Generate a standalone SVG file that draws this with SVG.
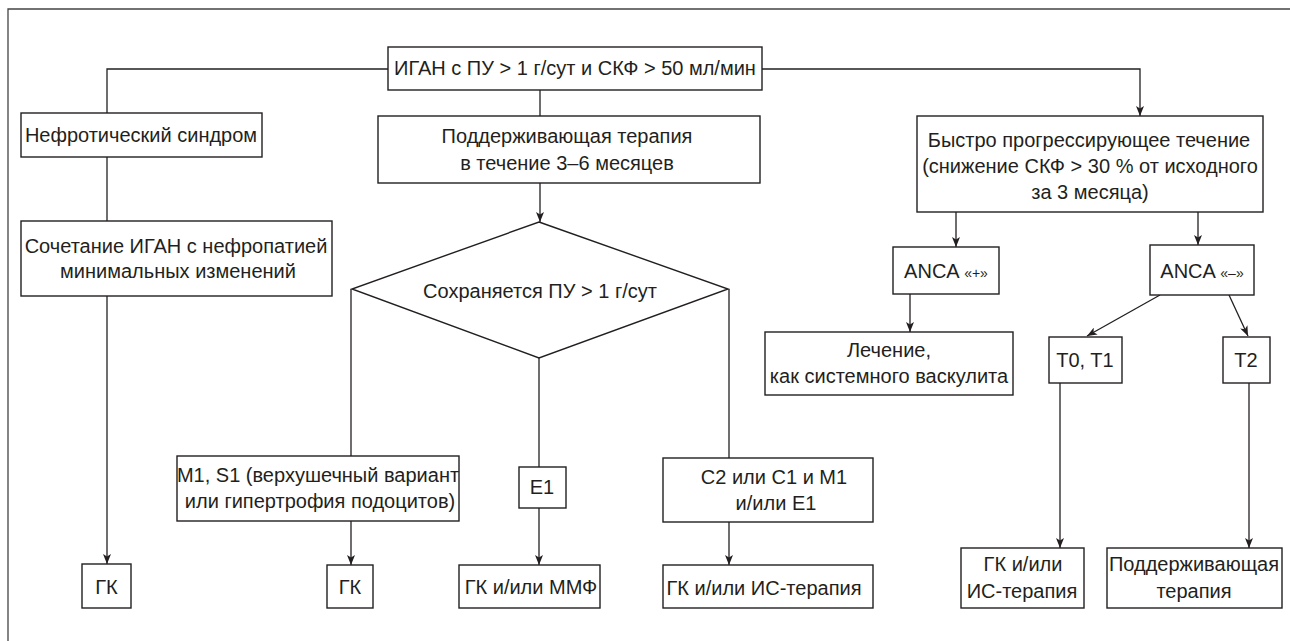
<svg xmlns="http://www.w3.org/2000/svg" width="1290" height="641" viewBox="0 0 1290 641">
<style>
.box{fill:#fff;stroke:#231f20;stroke-width:1.4}
.ln{fill:none;stroke:#231f20;stroke-width:1.3}
.arr{marker-end:url(#ah)}
text{font-family:"Liberation Sans",Arial,sans-serif;font-size:20px;fill:#231f20;text-anchor:middle}
.q{font-size:14px}
</style>
<defs>
<marker id="ah" viewBox="0 0 10 8" refX="10" refY="4" markerWidth="10" markerHeight="8" markerUnits="userSpaceOnUse" orient="auto">
<path d="M0,0 L10,4 L0,8 L2.5,4 z" fill="#231f20"/>
</marker>
</defs>
<rect width="1290" height="641" fill="#fff"/>
<path d="M8,641 V9 H1290" fill="none" stroke="#444" stroke-width="1.3"/>

<g id="connectors">
<path class="ln" d="M388,69 H107 V113"/>
<path class="ln" d="M107,157 V221"/>
<path class="ln arr" d="M107,296 V564"/>
<path class="ln" d="M540,90 V116"/>
<path class="ln arr" d="M540,183 V222"/>
<path class="ln" d="M351,289 V456"/>
<path class="ln arr" d="M351,521 V565"/>
<path class="ln" d="M539,358 V467"/>
<path class="ln arr" d="M539,508 V565"/>
<path class="ln" d="M729,289 V458"/>
<path class="ln arr" d="M729,522 V565"/>
<path class="ln arr" d="M762,69 H1140 V116"/>
<path class="ln arr" d="M956,212 V247"/>
<path class="ln arr" d="M1198,212 V245"/>
<path class="ln arr" d="M910,294 V332"/>
<path class="ln arr" d="M1160,295 L1087,336"/>
<path class="ln arr" d="M1229,295 L1248,336"/>
<path class="ln arr" d="M1060,383 V548"/>
<path class="ln arr" d="M1249,383 V548"/>
</g>

<g id="n_igan"><rect class="box" x="388" y="47" width="374" height="43"/><text x="575" y="75">ИГАН с ПУ &gt; 1 г/сут и СКФ &gt; 50 мл/мин</text></g>
<g id="n_nephrotic"><rect class="box" x="21" y="113" width="241" height="44"/><text x="141" y="142">Нефротический синдром</text></g>
<g id="n_mcd"><rect class="box" x="21" y="221" width="311" height="75"/><text x="176" y="253">Сочетание ИГАН с нефропатией</text><text x="178" y="278">минимальных изменений</text></g>
<g id="n_gk1"><rect class="box" x="82" y="564" width="49" height="44"/><text x="106.5" y="594">ГК</text></g>
<g id="n_support"><rect class="box" x="378" y="116" width="382" height="67"/><text x="567" y="143">Поддерживающая терапия</text><text x="567" y="170">в течение 3–6 месяцев</text></g>
<g id="n_diamond"><polygon class="box" points="539,222 728,289 539,358 352,289"/><text x="540" y="298">Сохраняется ПУ &gt; 1 г/сут</text></g>
<g id="n_m1s1"><rect class="box" x="177" y="456" width="282" height="65"/><text x="318" y="482">M1, S1 (верхушечный вариант</text><text x="320" y="508">или гипертрофия подоцитов)</text></g>
<g id="n_gk2"><rect class="box" x="327" y="565" width="46" height="43"/><text x="350" y="594">ГК</text></g>
<g id="n_e1"><rect class="box" x="519" y="467" width="47" height="41"/><text x="542" y="494">E1</text></g>
<g id="n_gkmmf"><rect class="box" x="459" y="565" width="141" height="43"/><text x="531" y="594">ГК и/или ММФ</text></g>
<g id="n_c2"><rect class="box" x="663" y="458" width="210" height="64"/><text x="774" y="484">C2 или C1 и M1</text><text x="776" y="510">и/или E1</text></g>
<g id="n_gkis1"><rect class="box" x="663" y="565" width="210" height="43"/><text x="764" y="595">ГК и/или ИС-терапия</text></g>
<g id="n_rapid"><rect class="box" x="917" y="116" width="346" height="96"/><text x="1089" y="147">Быстро прогрессирующее течение</text><text x="1090" y="173">(снижение СКФ &gt; 30 % от исходного</text><text x="1090" y="199">за 3 месяца)</text></g>
<g id="n_ancap"><rect class="box" x="893" y="247" width="106" height="47"/><text x="946" y="278">ANCA <tspan class="q">«+»</tspan></text></g>
<g id="n_ancam"><rect class="box" x="1150" y="245" width="104" height="50"/><text x="1202" y="278">ANCA <tspan class="q">«–»</tspan></text></g>
<g id="n_vasc"><rect class="box" x="765" y="332" width="248" height="63"/><text x="889" y="357">Лечение,</text><text x="889" y="383">как системного васкулита</text></g>
<g id="n_t0t1"><rect class="box" x="1049" y="337" width="73" height="46"/><text x="1085" y="367">T0, T1</text></g>
<g id="n_t2"><rect class="box" x="1223" y="337" width="47" height="46"/><text x="1246" y="367">T2</text></g>
<g id="n_gkis2"><rect class="box" x="961" y="548" width="123" height="60"/><text x="1023" y="571">ГК и/или</text><text x="1022" y="598">ИС-терапия</text></g>
<g id="n_support2"><rect class="box" x="1107" y="548" width="175" height="60"/><text x="1194" y="571">Поддерживающая</text><text x="1194" y="598">терапия</text></g>
</svg>
